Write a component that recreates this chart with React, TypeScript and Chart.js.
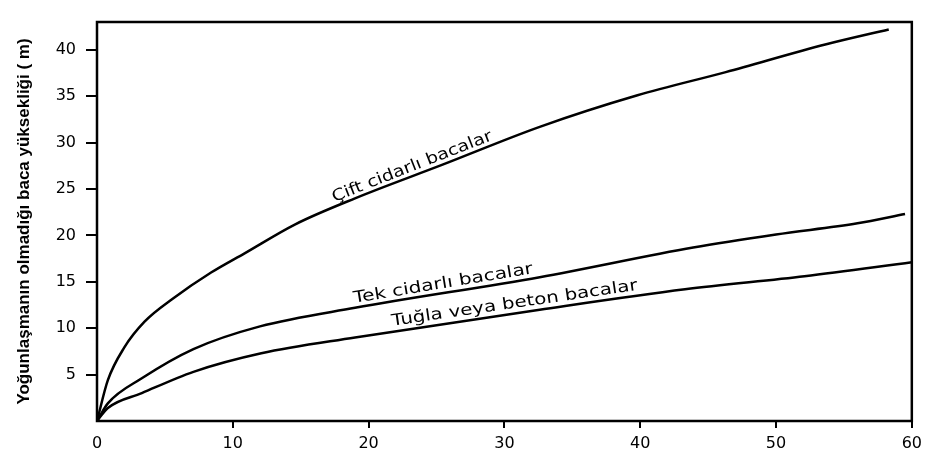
import React, { useEffect, useRef } from "react";
import { Chart, registerables } from "chart.js";

Chart.register(...registerables);

const ciftX = [0, 0.8, 2, 3.5, 5.6, 8.4, 10.9, 14.6, 19, 25.4, 32.6, 39.8, 46.3, 53.7, 58.3];
const ciftY = [0, 4.4, 7.9, 10.7, 13.2, 16, 18.1, 21.2, 24, 27.6, 31.7, 35.1, 37.6, 40.6, 42.2];

const tekX = [0, 0.8, 3.3, 7.1, 12, 19, 32.6, 43.9, 50, 56, 59.5];
const tekY = [0, 1.9, 4.6, 7.75, 10.2, 12.2, 15.5, 18.7, 20.1, 21.3, 22.3];

const tuglaX = [0, 0.8, 3.3, 7.1, 12.1, 19, 32.6, 43.3, 52.1, 60];
const tuglaY = [0, 1.4, 3.0, 5.3, 7.3, 9.0, 12.0, 14.2, 15.6, 17.1];

const seriesNames = ["Çift cidarlı bacalar", "Tek cidarlı bacalar", "Tuğla veya beton bacalar"];
const xTicks = [0, 10, 20, 30, 40, 50, 60];
const yTicks = [5, 10, 15, 20, 25, 30, 35, 40];
const yTitle = "Yoğunlaşmanın olmadığı baca yüksekliği ( m)";

// label placement along each curve (x-range in data units, gap in px above curve)
const labelPlacement = [
  { from: 17.6, to: 29.3, gap: 5 },
  { from: 19.0, to: 32.2, gap: 5 },
  { from: 21.8, to: 39.9, gap: 6 },
];

function toPoints(xs: number[], ys: number[]) {
  return xs.map((x, i) => ({ x, y: ys[i] }));
}

function interp(pts: { x: number; y: number }[], x: number) {
  for (let i = 1; i < pts.length; i++) {
    if (x <= pts[i].x) {
      const a = pts[i - 1], b = pts[i];
      const t = (x - a.x) / (b.x - a.x);
      return a.y + t * (b.y - a.y);
    }
  }
  return pts[pts.length - 1].y;
}

const curveLabelPlugin = {
  id: "curveLabels",
  afterDatasetsDraw(chart: any) {
    const ctx = chart.ctx;
    const xs = chart.scales.x, ys = chart.scales.y;
    chart.data.datasets.forEach((ds: any, i: number) => {
      const pl = labelPlacement[i];
      if (!pl) return;
      const p1 = { x: xs.getPixelForValue(pl.from), y: ys.getPixelForValue(interp(ds.data, pl.from)) };
      const p2 = { x: xs.getPixelForValue(pl.to), y: ys.getPixelForValue(interp(ds.data, pl.to)) };
      const ang = Math.atan2(p2.y - p1.y, p2.x - p1.x);
      const len = Math.hypot(p2.x - p1.x, p2.y - p1.y);
      ctx.save();
      ctx.font = '16px "DejaVu Sans"';
      const w = ctx.measureText(ds.label).width;
      ctx.translate((p1.x + p2.x) / 2, (p1.y + p2.y) / 2);
      ctx.rotate(ang);
      ctx.scale(len / w, 1);
      ctx.fillStyle = "#000";
      ctx.textAlign = "center";
      ctx.textBaseline = "alphabetic";
      ctx.fillText(ds.label, 0, -pl.gap);
      ctx.restore();
    });
  },
  afterDraw(chart: any) {
    const { left, top, right, bottom } = chart.chartArea;
    const ctx = chart.ctx;
    ctx.save();
    ctx.strokeStyle = "#000";
    ctx.lineWidth = 2.5;
    ctx.strokeRect(left, top, right - left, bottom - top);
    ctx.restore();
  },
};

export default function App() {
  const ref = useRef<HTMLCanvasElement | null>(null);
  useEffect(() => {
    if (!ref.current) return;
    const lineStyle = {
      borderColor: "#000",
      borderWidth: 2.5,
      pointRadius: 0,
      fill: false,
      cubicInterpolationMode: "monotone" as const,
    };
    const chart = new Chart(ref.current, {
      type: "line",
      data: {
        datasets: [
          { label: seriesNames[0], data: toPoints(ciftX, ciftY), ...lineStyle },
          { label: seriesNames[1], data: toPoints(tekX, tekY), ...lineStyle },
          { label: seriesNames[2], data: toPoints(tuglaX, tuglaY), ...lineStyle },
        ],
      },
      options: {
        animation: false,
        responsive: true,
        maintainAspectRatio: false,
        layout: { padding: { left: 0, top: 22, right: 14, bottom: 0 } },
        plugins: { legend: { display: false }, tooltip: { enabled: false } },
        scales: {
          x: {
            type: "linear",
            min: 0,
            max: 60,
            afterBuildTicks: (s: any) => {
              s.ticks = xTicks.map((v) => ({ value: v }));
            },
            afterFit: (s: any) => {
              s.height = 45;
            },
            ticks: {
              color: "#000",
              font: { family: "DejaVu Sans", size: 16 },
              padding: 6,
              maxRotation: 0,
            },
            grid: {
              drawOnChartArea: false,
              drawTicks: true,
              tickLength: 7,
              color: (c: any) => (c.tick && c.tick.value === 0 ? "rgba(0,0,0,0)" : "#000"),
              lineWidth: 2,
            },
            border: { display: false },
          },
          y: {
            type: "linear",
            min: 0,
            max: 43,
            afterBuildTicks: (s: any) => {
              s.ticks = yTicks.map((v) => ({ value: v }));
            },
            afterFit: (s: any) => {
              s.width = 97;
            },
            ticks: {
              color: "#000",
              font: { family: "DejaVu Sans", size: 16 },
              padding: 10,
            },
            grid: {
              drawOnChartArea: false,
              drawTicks: true,
              tickLength: 11,
              color: "#000",
              lineWidth: 2,
            },
            border: { display: false },
            title: {
              display: true,
              text: yTitle,
              color: "#000",
              font: { family: "Liberation Sans", size: 17, weight: "bold" },
              padding: { top: 14, bottom: 0 },
            },
          },
        },
      },
      plugins: [curveLabelPlugin],
    });
    return () => chart.destroy();
  }, []);
  return (
    <div style={{ position: "fixed", left: 0, top: 0, width: 928, height: 466, background: "#fff" }}>
      <canvas ref={ref} />
    </div>
  );
}
